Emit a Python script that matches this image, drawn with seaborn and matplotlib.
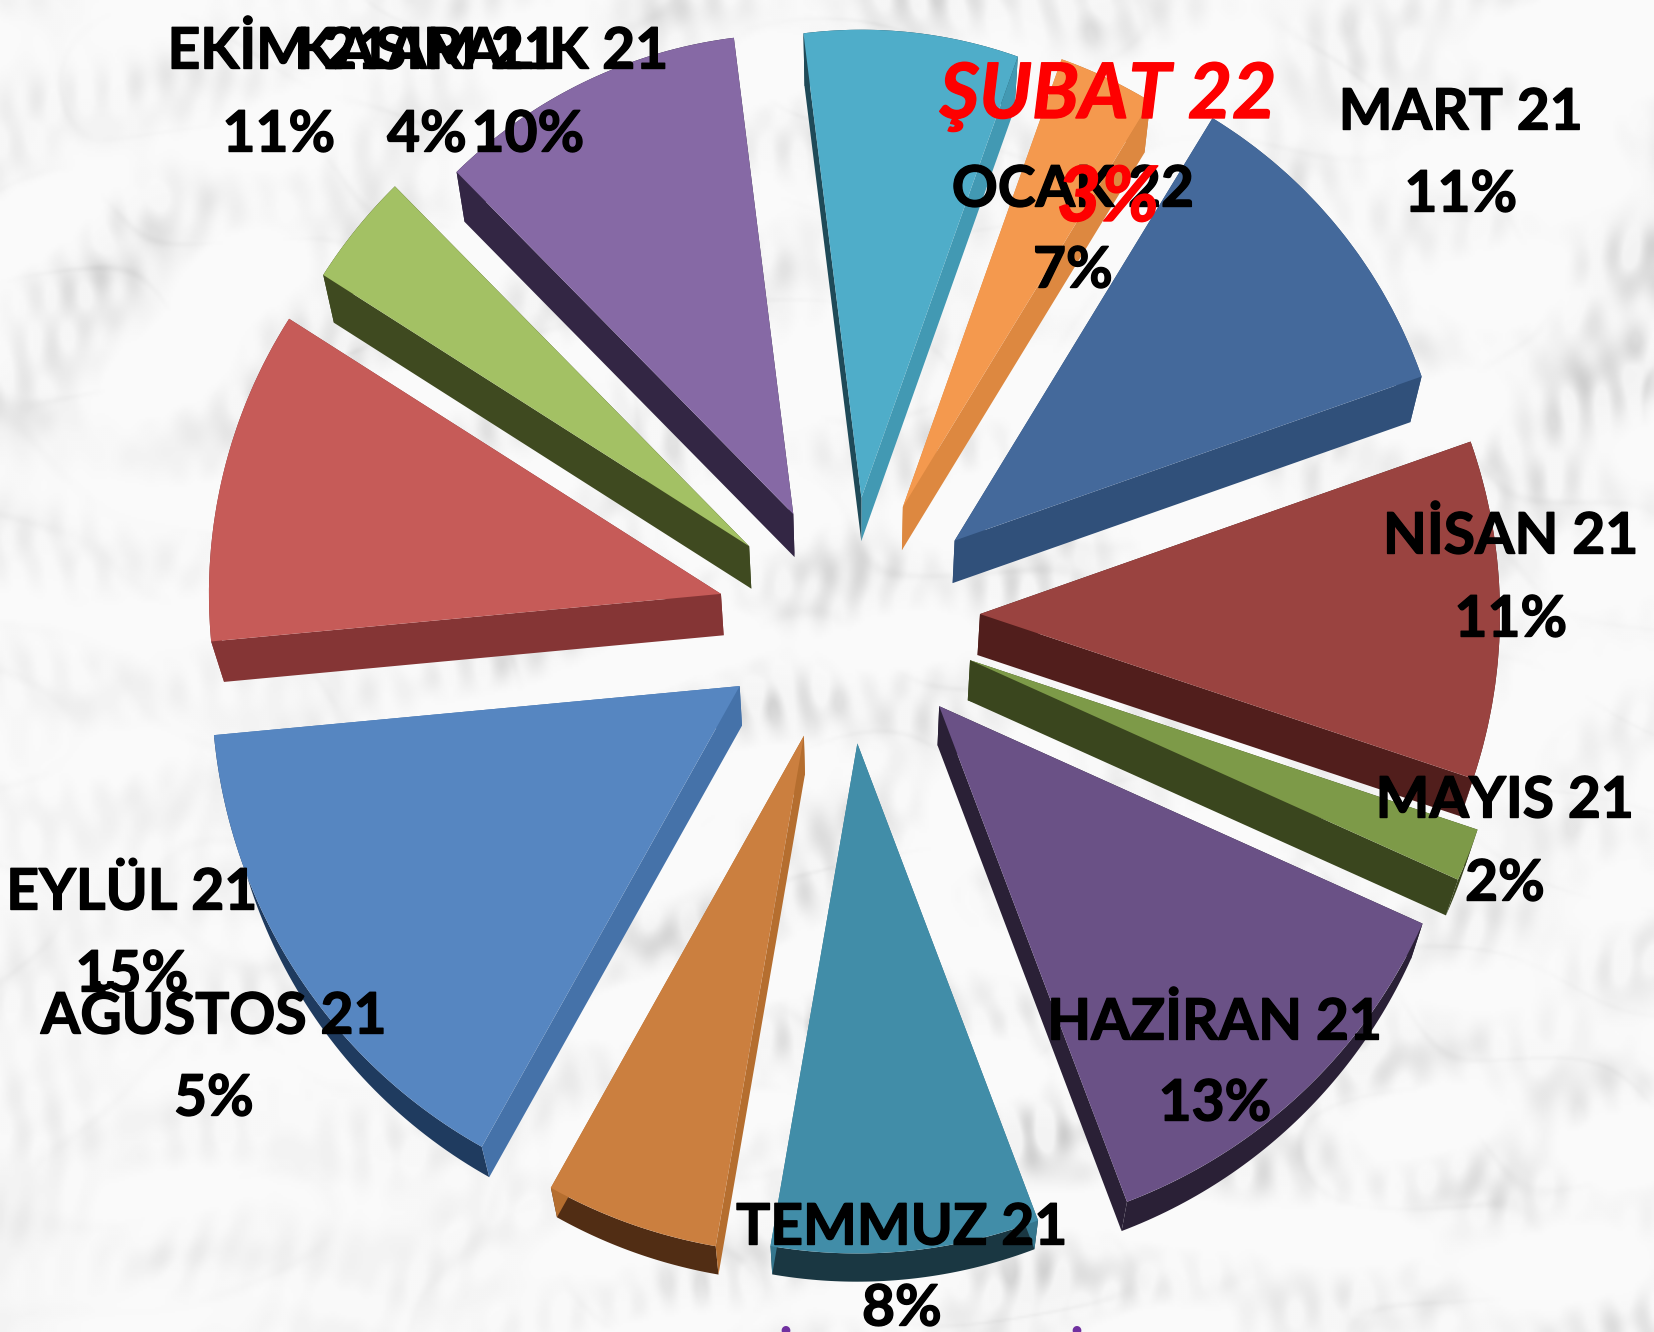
import numpy as np
import matplotlib
matplotlib.use("Agg")
import matplotlib.pyplot as plt
import matplotlib.patheffects as pe
import seaborn as sns

W, H = 1654, 1332

# data
months = ["MART 21", "NİSAN 21", "MAYIS 21", "HAZİRAN 21", "TEMMUZ 21", "AĞUSTOS 21",
          "EYLÜL 21", "EKİM 21", "KASIM 21", "ARALIK 21", "OCAK 22", "ŞUBAT 22"]
# they round to the printed percentages
shares = [10.9, 10.51, 1.6, 12.51, 8.49, 5.4, 15.4, 10.51, 3.6, 10.4, 7.4, 3.3]

# colours
top_colors = ["#44699b", "#9a4340", "#7d9a48", "#6a5186", "#418da8", "#cb7f3f",
              "#5686c1", "#c65b58", "#a3c164", "#8669a5", "#4fadc9", "#f4994e"]
outer_colors = ["#30507a", "#511e1c", "#3a461e", "#2a2036", "#1a3742", "#512d14",
                "#1f3b5f", "#853535", "#3f4a20", "#332644", "#1f4a58", "#c47a39"]
side_lo = ["#30507a", "#511e1c", "#3a461e", "#2a2036", "#35768d", "#b56e2f",
           "#4572a9", "#853535", "#3f4a20", "#332644", "#4299b3", "#dd8840"]
side_hi = ["#30507a", "#511e1c", "#3a461e", "#2a2036", "#35768d", "#b56e2f",
           "#4572a9", "#853535", "#3f4a20", "#332644", "#1f4a58", "#dd8840"]

# layout of the exploded slices, in pixels
explode = [123, 119, 116, 117, 119, 126, 134, 141, 122, 121, 124, 123]
nudge_x = [3, 5, 6, 3, -10, -10, -4, 2, -12, -10, -8, -6]
nudge_y = [3, 0, 3, 6, 10, 2, -2, 12, 8, 8, 6, 3]
radii = [495, 520, 535, 530, 510, 518, 528, 512, 505, 480, 468, 475]
cx, cy = 856, H - 615

# label centres (x, y of name, y of percent) in pixels from the top left
label_x = [1461, 1511, 1505, 1215, 902, 214, 132, 279, 427, 528, 1073, 1108]
name_y = [113, 537, 801, 1023, 1228, 1017, 893, 52, 52, 52, 190, 96]
pct_y = [195, 620, 884, 1104, 1309, 1099, 975, 135, 135, 135, 271, 199]

sns.set_theme(style="white")
plt.rcParams["font.family"] = ["Lato", "DejaVu Sans"]

fig = plt.figure(figsize=(W / 100, H / 100), dpi=100)
ax = fig.add_axes([0, 0, 1, 1])


# marble backdrop, only a texture: many fixed sines running along the diagonal
def ripple(xx, yy, count, f0, f1, spread, seed):
    out = np.zeros_like(xx)
    for k in range(count):
        a = 2.2 + spread * np.sin(k * 2.399 + seed)
        f = f0 + (f1 - f0) * ((k * 0.618 + seed * 0.37) % 1)
        out += np.sin(f * (xx * np.cos(a) + yy * np.sin(a)) + k * 1.913 + seed)
    return out / np.sqrt(count / 2)


def marble():
    yy, xx = np.mgrid[0:H:2, 0:W:2].astype(float)
    blotch = ripple(xx, yy, 70, 0.012, 0.06, 0.85, 1.0)
    fleck = ripple(xx, yy, 90, 0.05, 0.22, 1.3, 2.0)
    vein = np.exp(-(ripple(xx, yy, 50, 0.008, 0.04, 1.1, 3.0) / 0.1) ** 2)
    dark = np.clip(blotch + 0.6, 0, None) * (6 + 4 * np.clip(fleck, -1, 2.5)) + vein * np.clip(blotch + 1.0, 0, 3) * 3
    return np.clip(250 - dark, 200, 251) / 255


ax.imshow(marble(), cmap="gray", vmin=0, vmax=1, extent=(0, W, 0, H), origin="lower",
          interpolation="bilinear", zorder=0)

wedges, _ = ax.pie(shares, explode=explode, colors=sns.color_palette(top_colors), radius=500,
                   center=(cx, cy), startangle=58.6, counterclock=False, frame=True)


def drop(pts):
    # where a point of the top face lands on the bottom face
    pts = np.asarray(pts, dtype=float)
    low = np.array([cx, cy]) + (pts - np.array([cx, cy])) * 0.98
    low[..., 1] -= 41
    return low


order = sorted(range(len(wedges)), key=lambda i: -wedges[i].center[1])
for z, i in enumerate(order):
    w = wedges[i]
    w.set_center((w.center[0] + nudge_x[i], w.center[1] - nudge_y[i]))
    w.set_radius(radii[i])
    w.set_linewidth(0)
    base = 10 + z * 2
    w.set_zorder(base + 1)
    tip = np.array(w.center)
    t = np.radians(np.linspace(w.theta1, w.theta2, 60))
    arc = tip + radii[i] * np.column_stack([np.cos(t), np.sin(t)])
    walls = [(np.vstack([arc, drop(arc)[::-1]]), outer_colors[i]),
             (np.vstack([tip, arc[0], drop(arc[0]), drop(tip)]), side_lo[i]),
             (np.vstack([tip, arc[-1], drop(arc[-1]), drop(tip)]), side_hi[i])]
    for poly, col in walls:
        ax.fill(poly[:, 0], poly[:, 1], color=col, lw=0, zorder=base)

# labels, later ones on top like in the slide
for name, pct, x, y1, y2 in zip(months, shares, label_x, name_y, pct_y):
    red = name.startswith("ŞUBAT")
    color = "#fe0000" if red else "black"
    kw = dict(ha="center", va="center", fontweight="bold", zorder=100, color=color,
              fontstyle="italic" if red else "normal", fontsize=55 if red else 41,
              path_effects=[pe.withStroke(linewidth=1.0, foreground=color)])
    ax.text(x, H - y1, name, **kw)
    ax.text(x, H - y2, f"{round(pct)}%", **kw)

# tops of the clipped purple line under the chart
for x in [785, 1076]:
    ax.text(x, H - 1326, "i", color="#7030a0", fontsize=40, fontweight="bold", ha="center", va="top", zorder=100)

ax.set_xlim(0, W)
ax.set_ylim(0, H)
ax.set_aspect("auto")
ax.axis("off")
fig.savefig("out.png", dpi=100)
